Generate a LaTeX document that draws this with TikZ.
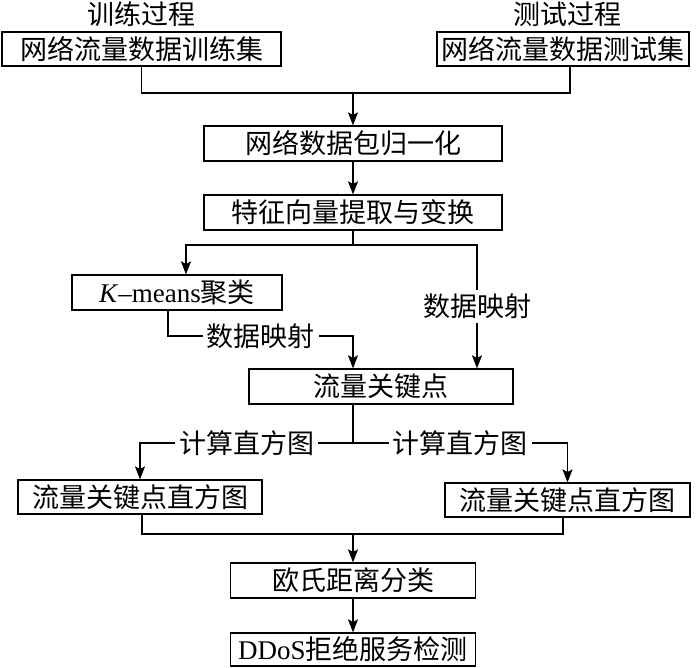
\documentclass[tikz,border=0pt]{standalone}
\usepackage{fontspec}
\setmainfont{Liberation Serif}
\newfontfamily\cjk{Noto Sans CJK SC}
\usetikzlibrary{arrows.meta,positioning}
\newcommand{\flowfont}{\fontsize{27}{31}\selectfont\cjk}

\begin{document}
\begin{tikzpicture}[x=1pt,y=-1pt,
  box/.style={draw,line width=1.2pt,minimum height=34pt,inner sep=0pt,font=\flowfont},
  lbl/.style={fill=white,inner sep=4pt,font=\flowfont},
  ttl/.style={font=\flowfont},
  link/.style={line width=1.1pt},
  arr/.style={line width=1.1pt,-{Stealth[length=13pt,width=10pt,inset=2.5pt]}}]
  \useasboundingbox (0,0) rectangle (700,667);

  \node[ttl] (traintitle) at (141,14) {训练过程};
  \node[ttl] (testtitle) at (567,14) {测试过程};
  \node[box,minimum width=279pt] (trainset) at (141.5,49) {网络流量数据训练集};
  \node[box,minimum width=252pt] (testset) at (563,49) {网络流量数据测试集};
  \node[box,minimum width=298pt,minimum height=35pt] (norm) at (353,143.5) {网络数据包归一化};
  \node[box,minimum width=298pt,minimum height=35pt] (feat) at (353,212.5) {特征向量提取与变换};
  \node[box,minimum width=210pt,minimum height=35pt] (kmeans) at (177,292.5) {{\rmfamily\textit{K}--means}聚类};
  \node[box,minimum width=264pt,minimum height=35pt] (keypt) at (381,386.5) {流量关键点};
  \node[box,minimum width=244pt] (histL) at (140,497) {流量关键点直方图};
  \node[box,minimum width=245pt] (histR) at (567.5,500) {流量关键点直方图};
  \node[box,minimum width=245pt,minimum height=35pt] (cls) at (353,580.5) {欧氏距离分类};
  \node[box,minimum width=245pt,minimum height=33pt] (ddos) at (353,649.5) {{\rmfamily DDoS}拒绝服务检测};

  \coordinate (j1) at (353,93);
  \coordinate (j2) at (353,245);
  \coordinate (j5) at (353,336);
  \coordinate (j3) at (353,443);
  \coordinate (j4) at (353,534);

  \draw[link] (trainset.south) |- (j1) -| ([xshift=7pt]testset.south);
  \draw[arr] (j1) -- (norm.north);
  \draw[arr] (norm) -- (feat);
  \draw[link] (feat.south) -- (j2);
  \draw[arr] (j2) -| ([xshift=9pt]kmeans.north);
  \draw[arr] (j2) -| node[lbl,pos=0.75] {数据映射} ([xshift=96pt]keypt.north);
  \draw[arr] ([xshift=-9pt]kmeans.south) |- node[lbl,pos=0.75] {数据映射} (j5) -- (j5 |- keypt.north);
  \draw[link] (j3 |- keypt.south) -- (j3);
  \draw[arr] (j3) -| node[lbl,pos=0.25] {计算直方图} (histL.north);
  \draw[arr] (j3) -| node[lbl,pos=0.25] {计算直方图} (histR.north);
  \draw[link] ([xshift=2pt]histL.south) |- (j4) -| ([xshift=-4.5pt]histR.south);
  \draw[arr] (j4) -- (cls.north);
  \draw[arr] (cls) -- (ddos);
\end{tikzpicture}
\end{document}
